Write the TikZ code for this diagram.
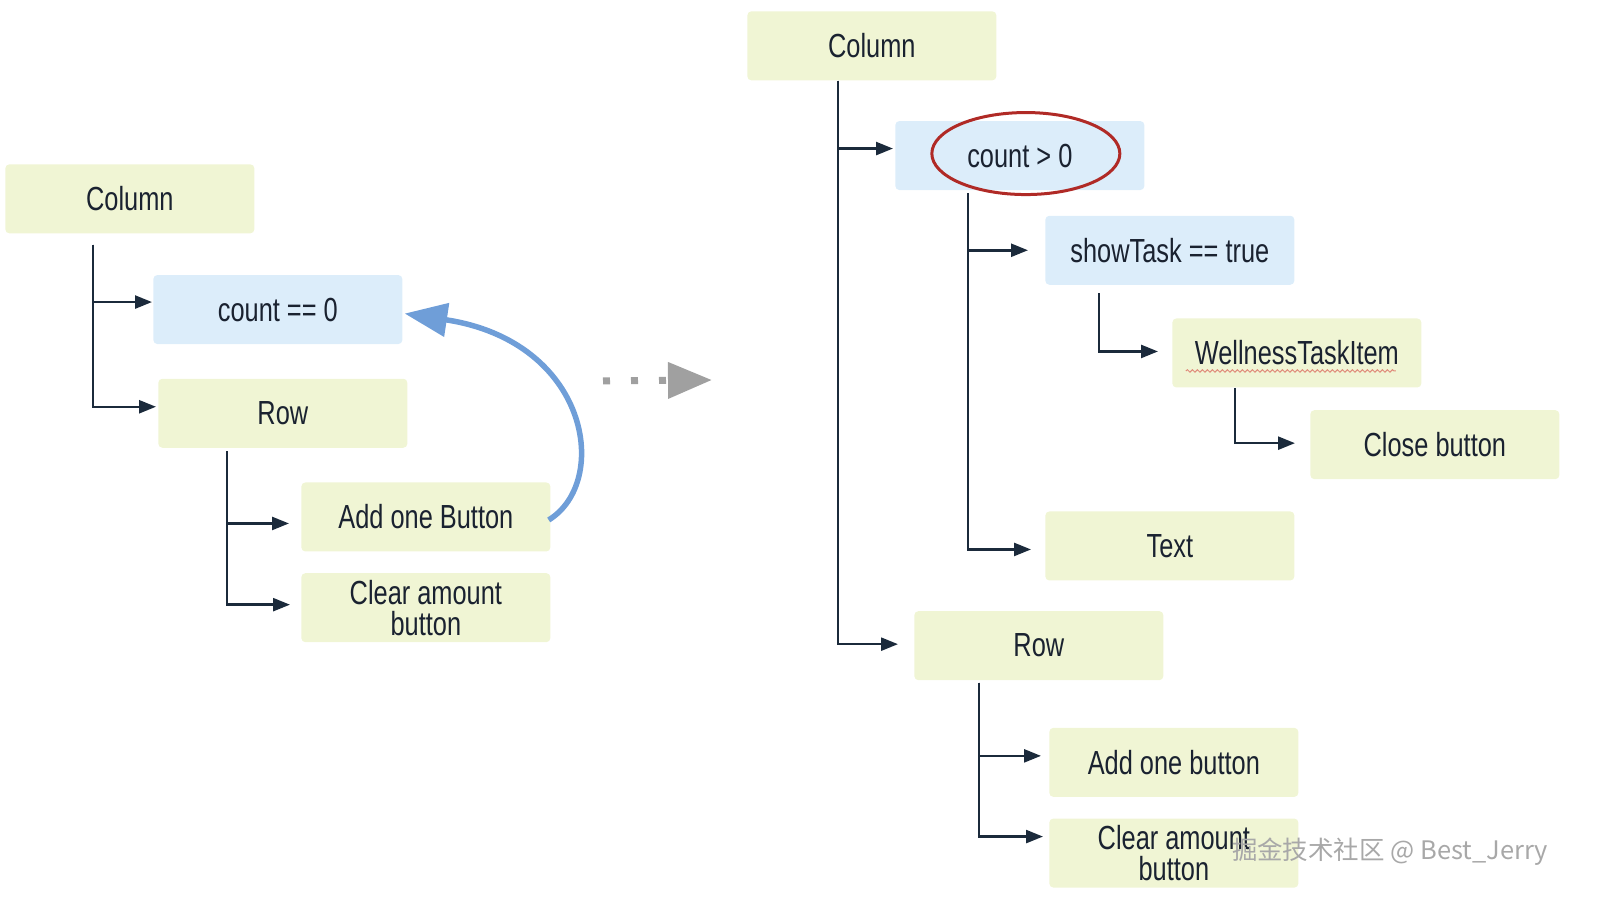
\documentclass[tikz,border=0pt]{standalone}
\usepackage{fontspec}
\setmainfont{Liberation Sans}[FakeStretch=0.76]
\newfontfamily\cjkfont{Noto Sans CJK SC}
\usepackage{tikz}
\usetikzlibrary{positioning}
\usetikzlibrary{arrows.meta}
\usetikzlibrary{shapes.geometric}
\usetikzlibrary{calc}
\usetikzlibrary{decorations.pathmorphing}

\definecolor{boxgreen}{HTML}{F0F5D4}
\definecolor{boxblue}{HTML}{DCEDFA}
\definecolor{navy}{HTML}{1B2A3B}
\definecolor{inkdark}{HTML}{1A2230}
\definecolor{loopblue}{HTML}{6F9ED8}
\definecolor{dotgray}{HTML}{A0A0A0}
\definecolor{ringred}{HTML}{B02A26}
\definecolor{spellred}{HTML}{E08A7A}
\definecolor{markgray}{HTML}{A8A8A8}

\begin{document}
\begin{tikzpicture}[
    wnode/.style={fill=boxgreen,rounded corners=0.08cm,minimum width=4.98cm,minimum height=1.38cm,inner sep=0pt,text=inkdark,align=center,font=\fontsize{19}{17.6}\selectfont},
    cnode/.style={wnode,fill=boxblue},
    child/.style={draw=navy,line width=0.05cm,-{Triangle[length=0.34cm,width=0.26cm]},shorten >=0.28cm}
    ]
    \useasboundingbox (0,0) rectangle (32,-18.16);

    % left tree
    \node[wnode, anchor=north west] (colA) at (0.10,-3.28) {Column};
    \node[cnode, below=0.82cm of colA.south west, anchor=north west, xshift=2.96cm] (cntA) {count == 0};
    \node[wnode, below=0.68cm of cntA.south west, anchor=north west, xshift=0.10cm] (rowA) {Row};
    \node[wnode, below=0.68cm of rowA.south west, anchor=north west, xshift=2.86cm] (addA) {Add one Button};
    \node[wnode, below=0.42cm of addA.south west, anchor=north west] (clrA) {Clear amount\\button};

    \draw[child, shorten >=0.02cm] ($(colA.south west)+(1.76,-0.22)$) |- ([yshift=0.15cm]cntA.west);
    \draw[child, shorten >=0.04cm] ($(colA.south west)+(1.76,-0.22)$) |- ([yshift=0.13cm]rowA.west);
    \draw[child, shorten >=0.24cm] ($(rowA.south west)+(1.38,-0.06)$) |- ([yshift=-0.13cm]addA.west);
    \draw[child, shorten >=0.22cm] ($(rowA.south west)+(1.38,-0.06)$) |- ([yshift=0.06cm]clrA.west);

    \draw[loopblue, line width=0.11cm, -{Triangle[length=0.85cm,width=0.66cm]}]
      ([xshift=-0.04cm,yshift=-0.06cm]addA.east) .. controls +(1.24,0.76) and +(3.7,-0.56) .. ([xshift=0.04cm,yshift=-0.08cm]cntA.east);

    % from one tree to the other
    \coordinate (dotsL) at (12.06,-7.62);
    \coordinate (dotsR) at (14.24,-7.6);
    \draw[dotgray, line width=0.14cm, dash pattern=on 0.14cm off 0.42cm, -{Triangle[length=0.88cm,width=0.7cm]}] (dotsL) -- (dotsR);

    % right tree
    \node[wnode, anchor=north west] (colB) at (14.94,-0.22) {Column};
    \node[cnode, below=0.80cm of colB.south west, anchor=north west, xshift=2.96cm] (cntB) {count > 0};
    \node[cnode, below=0.50cm of cntB.south west, anchor=north west, xshift=3.00cm] (showB) {showTask == true};
    \node[wnode, below=0.66cm of showB.south west, anchor=north west, xshift=2.54cm] (wellB) {WellnessTaskItem};
    \node[wnode, below=0.44cm of wellB.south west, anchor=north west, xshift=2.76cm] (closeB) {Close button};
    \node[wnode, below=4.52cm of showB.south west, anchor=north west] (textB) {Text};
    \node[wnode, below=0.60cm of textB.south west, anchor=north west, xshift=-2.62cm] (rowB) {Row};
    \node[wnode, below=0.94cm of rowB.south west, anchor=north west, xshift=2.70cm] (addB) {Add one button};
    \node[wnode, below=0.42cm of addB.south west, anchor=north west] (clrB) {Clear amount\\button};

    \node[draw=ringred, line width=0.06cm, ellipse, minimum width=3.76cm, minimum height=1.64cm] (ring) at ([xshift=0.12cm,yshift=0.04cm]cntB.center) {};

    \draw[spellred, line width=0.02cm, decorate, decoration={snake,amplitude=0.025cm,segment length=0.1cm}]
      ($(wellB.center)+(-2.22,-0.36)$) -- ($(wellB.center)+(1.98,-0.36)$);

    \draw[child, shorten >=0.04cm] ($(colB.south west)+(1.82,0)$) |- ([yshift=0.14cm]cntB.west);
    \draw[child, shorten >=0.32cm] ($(colB.south west)+(1.82,0)$) |- ([yshift=0.03cm]rowB.west);
    \draw[child, shorten >=0.34cm] ($(cntB.south west)+(1.46,-0.06)$) |- (showB.west);
    \draw[child] ($(cntB.south west)+(1.46,-0.06)$) |- ([yshift=-0.07cm]textB.west);
    \draw[child] ($(showB.south west)+(1.08,-0.16)$) |- ([yshift=0.03cm]wellB.west);
    \draw[child, shorten >=0.30cm] ($(wellB.south west)+(1.26,0)$) |- ([yshift=0.03cm]closeB.west);
    \draw[child, shorten >=0.16cm] ($(rowB.south west)+(1.30,-0.04)$) |- ([yshift=0.13cm]addB.west);
    \draw[child, shorten >=0.12cm] ($(rowB.south west)+(1.30,-0.04)$) |- ([yshift=0.33cm]clrB.west);

    \node[font=\cjkfont\fontsize{14.5}{16}\selectfont, text=markgray] (mark) at (27.8,-17.04) {掘金技术社区 @ Best\_Jerry};

  \end{tikzpicture}
\end{document}
